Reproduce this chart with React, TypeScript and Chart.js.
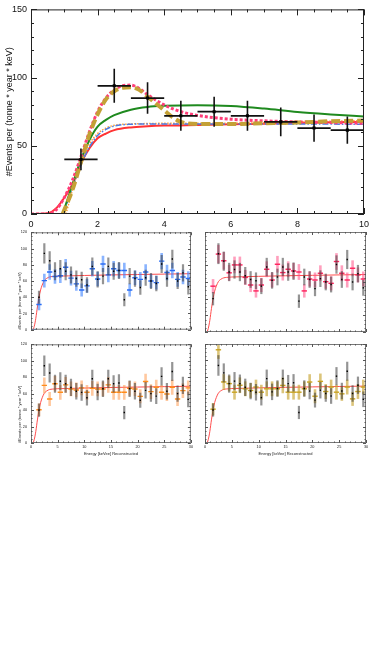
import React, { useEffect, useRef } from "react";
import { Chart, registerables } from "chart.js";

Chart.register(...registerables);

// ---------------- Top chart data ----------------
const MAIN_X = [1.5, 2.5, 3.5, 4.5, 5.5, 6.5, 7.5, 8.5, 9.5];
const MAIN_Y = [40, 94, 85, 72, 75, 72, 67.5, 63, 61.5];
const MAIN_ERR = [8, 12.5, 11.5, 11, 11, 11, 10.5, 10, 10];
const HALF_BIN = 0.5;

const RED_X = [0, 0.5, 0.75, 1, 1.25, 1.5, 1.75, 2, 2.25, 2.5, 3, 3.5, 4, 5, 6, 7, 8, 9, 10];
const RED_Y = [0, 0.5, 4, 12, 22, 37, 48, 55.5, 59, 61.5, 63.5, 64.3, 64.8, 65.3, 65.8, 66.2, 66.7, 67.2, 67.6];
const GREEN_X = [0.95, 1.25, 1.5, 1.75, 2, 2.25, 2.5, 3, 3.5, 4, 5, 6, 7, 8, 9, 10];
const GREEN_Y = [0, 22, 40, 54, 64, 69, 72.5, 76.5, 78.5, 79.3, 79.8, 79.2, 77.3, 74.8, 73, 71.5];
const BLUE_X = [0, 0.5, 0.9, 1.25, 1.5, 1.75, 2, 2.25, 2.5, 3, 3.5, 4, 6, 8, 10];
const BLUE_Y = [0, 0, 0, 20, 36, 49, 57.5, 62, 64.5, 65.8, 66, 66, 66, 66, 65.8];
const ORANGE_X = [1.05, 1.25, 1.5, 1.75, 2, 2.25, 2.5, 3, 3.5, 4, 6, 8, 10];
const ORANGE_Y = [0, 18, 37, 51, 59, 63, 65, 66, 66.3, 66.5, 66.6, 67.5, 68.5];
const PINK_X = [0, 0.5, 0.75, 1, 1.25, 1.5, 1.75, 2, 2.25, 2.5, 2.75, 3, 3.25, 3.5, 4, 4.5, 5, 6, 7, 8, 9, 10];
const PINK_Y = [0, 0, 3, 12, 25, 42, 60, 75, 85, 91, 94, 94.5, 92, 87.5, 80, 75, 72.3, 69.5, 68.3, 67.5, 67, 66.5];
const GOLD_X = [0.95, 1.25, 1.5, 1.75, 2, 2.25, 2.5, 2.75, 3, 3.25, 3.5, 3.75, 4, 4.25, 4.5, 5, 6, 7, 8, 9, 10];
const GOLD_Y = [0, 18, 38, 58, 73, 84, 90, 92.5, 93, 91, 86, 81, 76, 71, 67.5, 66, 66, 66.5, 67, 68, 68.5];

// ---------------- Small panels data ----------------
const BINS = [1.5, 2.5, 3.5, 4.5, 5.5, 6.5, 7.5, 8.5, 9.5, 10.5, 11.5, 12.5, 13.5, 14.5, 15.5, 16.5, 17.5, 18.5, 19.5, 20.5, 21.5, 22.5, 23.5, 24.5, 25.5, 26.5, 27.5, 28.5, 29.5];
const BLACK_Y = [40, 94, 85, 72, 75, 72, 67.5, 63, 61.5, 55, 78, 62, 66, 78, 72, 73, 37, 66, 63, 52, 64, 60, 57, 81, 63, 87, 60, 70, 53];
const BLACK_ERR = [8, 12.5, 11.5, 11, 11, 11, 10.5, 10, 10, 9.5, 11, 10, 10, 11, 10.5, 10.5, 8, 10, 10, 9, 10, 10, 9.5, 11, 10, 11.5, 10, 10.5, 9.5];

const COLOR_BINS = [0.5, 1.5, 2.5, 3.5, 4.5, 5.5, 6.5, 7.5, 8.5, 9.5, 10.5, 11.5, 12.5, 13.5, 14.5, 15.5, 16.5, 17.5, 18.5, 19.5, 20.5, 21.5, 22.5, 23.5, 24.5, 25.5, 26.5, 27.5, 28.5, 29.5];
const BLUE_PTS = [0, 31, 60.5, 71, 65.5, 66.5, 77, 63.5, 56.5, 49, 54, 75, 62.5, 81, 67.5, 75, 73, 73, 49, 64, 62, 71, 60, 58, 84.5, 70.5, 73, 62, 65, 63];
const BLUE_ERR = [0, 7, 8.5, 9.5, 9, 9, 10, 9, 8.5, 8, 8.5, 9.5, 9, 10, 9, 9.5, 9.5, 9.5, 8, 9, 9, 9.5, 8.5, 8.5, 10, 9.5, 9.5, 9, 9, 9];
const PINK_PTS = [0, 55, 93.5, 85.5, 71, 80.5, 80.5, 65.5, 56.4, 49.3, 56.4, 75.3, 62.4, 81.3, 71.3, 75.3, 73.3, 72, 49.3, 63.6, 62.4, 70.5, 60.4, 58.4, 84.6, 70.5, 62.4, 76.5, 68.5, 63.6];
const PINK_ERR = [0, 8.5, 11, 10.5, 9.5, 10, 10, 9, 8.5, 8, 8.5, 9.5, 9, 10, 9.5, 9.5, 9.5, 9.5, 8, 9, 9, 9.5, 8.5, 8.5, 10, 9.5, 9, 9.5, 9, 9];
const ORANGE_PTS = [0, 40.4, 70, 53.5, 72, 61.6, 70.6, 65.7, 64.5, 67, 61.6, 66.5, 65.7, 65.7, 70.6, 61.6, 61.6, 61.6, 66.5, 65.7, 56.7, 74.7, 62.4, 67.8, 61.6, 59.6, 67.8, 53.5, 63.7, 67];
const ORANGE_ERR = [0, 7.5, 9.5, 8.5, 9.5, 9, 9.5, 9, 9, 9, 9, 9, 9, 9, 9.5, 9, 9, 9, 9, 9, 8.5, 9.5, 9, 9, 9, 8.5, 9, 8.5, 9, 9];
const GOLD_PTS = [0, 41, 113, 74, 72, 61.6, 70, 65.7, 63.7, 67.8, 61.6, 65.7, 65.7, 65.7, 69.8, 61.6, 61.6, 61.6, 65.7, 73.9, 56.7, 74.7, 62.4, 67.8, 61.6, 59.6, 67.8, 53.5, 62.4, 67.8];
const GOLD_ERR = [0, 7.5, 11, 9.5, 9.5, 9, 9.5, 9, 9, 9, 9, 9, 9, 9, 9.5, 9, 9, 9, 9, 9.5, 8.5, 9.5, 9, 9, 9, 8.5, 9, 8.5, 9, 9];

const FIT_X = [0, 0.3, 0.6, 0.9, 1.2, 1.5, 1.8, 2.1, 2.5, 3, 3.5, 4, 5, 7, 10, 15, 20, 25, 30];
const FIT_Y = [0, 0, 4, 14, 28, 40, 49, 55, 60.5, 63.5, 65, 65.5, 66, 66.3, 66.8, 67.5, 68, 68.5, 69];

const Y_TITLE = "#Events per (tonne * year * keV)";
const X_TITLE = "Energy [keVee] Reconstructed";
const FONT = "'Liberation Sans', Arial, Helvetica, sans-serif";

// ---------------- plugins ----------------
const framePlugin = {
  id: "frame",
  afterDatasetsDraw(chart: any, _a: any, opts: any) {
    const { ctx, chartArea: a, scales } = chart;
    const xs = scales.x;
    const ys = scales.y;
    ctx.save();
    ctx.strokeStyle = opts.color;
    ctx.lineWidth = opts.width;
    ctx.strokeRect(a.left + 0.5, a.top + 0.5, a.right - a.left - 1, a.bottom - a.top - 1);
    ctx.strokeStyle = opts.tickColor;
    const line = (x1: number, y1: number, x2: number, y2: number) => {
      ctx.beginPath();
      ctx.moveTo(x1, y1);
      ctx.lineTo(x2, y2);
      ctx.stroke();
    };
    const isMajor = (v: number, step: number) => Math.abs(v / step - Math.round(v / step)) < 1e-6;
    for (let v = xs.min; v <= xs.max + 1e-9; v += opts.xMinor) {
      const px = Math.round(xs.getPixelForValue(v)) + 0.5;
      const L = isMajor(v, opts.xMajor) ? opts.majorLen : opts.minorLen;
      line(px, a.bottom, px, a.bottom - L);
      line(px, a.top, px, a.top + L);
    }
    for (let v = ys.min; v <= ys.max + 1e-9; v += opts.yMinor) {
      const py = Math.round(ys.getPixelForValue(v)) + 0.5;
      const L = isMajor(v, opts.yMajor) ? opts.majorLen : opts.minorLen;
      line(a.left, py, a.left + L, py);
      line(a.right, py, a.right - L, py);
    }
    ctx.restore();
  },
};

const errPlugin = {
  id: "errbars",
  beforeDatasetDraw(chart: any, args: any) {
    const ds: any = chart.data.datasets[args.index];
    if (!ds.errY) return;
    const { ctx, chartArea: a } = chart;
    const xs = chart.scales.x;
    const ys = chart.scales.y;
    ctx.save();
    ctx.beginPath();
    ctx.rect(a.left, a.top, a.right - a.left, a.bottom - a.top);
    ctx.clip();
    ds.data.forEach((p: any, i: number) => {
      const e = ds.errY[i];
      const px = xs.getPixelForValue(p.x);
      if (e > 0) {
        ctx.strokeStyle = ds.errColor;
        ctx.lineWidth = ds.errWidth;
        ctx.beginPath();
        ctx.moveTo(px, ys.getPixelForValue(p.y - e));
        ctx.lineTo(px, ys.getPixelForValue(p.y + e));
        ctx.stroke();
      }
      if (ds.errX) {
        const py = ys.getPixelForValue(p.y);
        ctx.strokeStyle = ds.hColor;
        ctx.lineWidth = ds.hWidth;
        ctx.beginPath();
        ctx.moveTo(xs.getPixelForValue(p.x - ds.errX), py);
        ctx.lineTo(xs.getPixelForValue(p.x + ds.errX), py);
        ctx.stroke();
      }
    });
    ctx.restore();
  },
};

function pts(xs: number[], ys: number[]) {
  return xs.map((x, i) => ({ x, y: ys[i] }));
}

function curve(label: string, xs: number[], ys: number[], color: string, width: number, dash: number[], order: number) {
  return {
    label,
    data: pts(xs, ys),
    showLine: true,
    borderColor: color,
    backgroundColor: color,
    borderWidth: width,
    borderDash: dash,
    pointRadius: 0,
    tension: 0.4,
    cubicInterpolationMode: "monotone",
    fill: false,
    order,
  };
}

function mainConfig(): any {
  return {
    type: "scatter",
    data: {
      datasets: [
        {
          label: "data",
          data: pts(MAIN_X, MAIN_Y),
          pointStyle: "rect",
          pointRadius: 2.2,
          backgroundColor: "#000",
          borderColor: "#000",
          borderWidth: 0,
          errY: MAIN_ERR,
          errColor: "#111",
          errWidth: 1.6,
          errX: HALF_BIN,
          hColor: "#111",
          hWidth: 1.8,
          order: 0,
        },
        curve("gold", GOLD_X, GOLD_Y, "#c4a136", 4, [9, 4], 1),
        curve("pink", PINK_X, PINK_Y, "#ff3c78", 3, [3, 2], 2),
        curve("green", GREEN_X, GREEN_Y, "#1f8a1f", 2, [], 3),
        curve("blue", BLUE_X, BLUE_Y, "#4b7be5", 1.5, [6, 2, 1.5, 2], 4),
        curve("orange", ORANGE_X, ORANGE_Y, "#ffa033", 1.5, [1.5, 1.5], 5),
        curve("red", RED_X, RED_Y, "#ff3333", 2, [], 6),
      ],
    },
    options: {
      animation: false,
      responsive: false,
      devicePixelRatio: 1,
      events: [],
      layout: { padding: { top: 7, right: 6, left: 0, bottom: 0 } },
      plugins: {
        legend: { display: false },
        tooltip: { enabled: false },
        frame: { color: "#222", tickColor: "#222", width: 1, xMinor: 0.5, xMajor: 2, yMinor: 10, yMajor: 50, majorLen: 6, minorLen: 3 },
      },
      scales: {
        x: {
          type: "linear",
          min: 0,
          max: 10,
          grid: { display: false, drawTicks: false },
          border: { display: false },
          ticks: { stepSize: 2, padding: 5, color: "#111", font: { family: FONT, size: 9 } },
          afterFit: (s: any) => {
            s.height = 20;
          },
        },
        y: {
          type: "linear",
          min: 0,
          max: 150,
          grid: { display: false, drawTicks: false },
          border: { display: false },
          ticks: { stepSize: 50, padding: 4, color: "#111", font: { family: FONT, size: 9 } },
          title: { display: true, text: Y_TITLE, color: "#111", font: { family: FONT, size: 9 }, padding: { top: 4, bottom: 0 } },
          afterFit: (s: any) => {
            s.width = 31;
          },
        },
      },
    },
    plugins: [framePlugin, errPlugin],
  };
}

type Panel = {
  pts: number[];
  err: number[];
  hColor: string;
  errColor: string;
  showY: boolean;
  showX: boolean;
  xHeight: number;
  yWidth: number;
  padRight: number;
};

function panelConfig(p: Panel): any {
  return {
    type: "scatter",
    data: {
      datasets: [
        {
          label: "black",
          data: pts(BINS, BLACK_Y),
          pointStyle: "rect",
          pointRadius: 1,
          backgroundColor: "#000",
          borderColor: "#000",
          borderWidth: 0,
          errY: BLACK_ERR,
          errColor: "rgba(60,60,60,0.55)",
          errWidth: 2.2,
          order: 0,
        },
        {
          label: "color",
          data: pts(COLOR_BINS, p.pts),
          pointRadius: 0,
          errY: p.err,
          errColor: p.errColor,
          errWidth: 2.6,
          errX: HALF_BIN,
          hColor: p.hColor,
          hWidth: 1.4,
          order: 1,
        },
        curve("fit", FIT_X, FIT_Y, "#ff4d4d", 1, [], 2),
      ],
    },
    options: {
      animation: false,
      responsive: false,
      devicePixelRatio: 1,
      events: [],
      layout: { padding: { top: 6, right: p.padRight, left: 0, bottom: 0 } },
      plugins: {
        legend: { display: false },
        tooltip: { enabled: false },
        frame: { color: "#777", tickColor: "#555", width: 1, xMinor: 1, xMajor: 5, yMinor: 5, yMajor: 20, majorLen: 3, minorLen: 1.5 },
      },
      scales: {
        x: {
          type: "linear",
          min: 0,
          max: 30,
          grid: { display: false, drawTicks: false },
          border: { display: false },
          ticks: { display: p.showX, stepSize: 5, padding: 2, color: "#222", font: { family: FONT, size: 3.8 } },
          title: {
            display: p.showX,
            text: X_TITLE,
            color: "#222",
            font: { family: FONT, size: 4 },
            padding: { top: 0, bottom: 12 },
          },
          afterFit: (s: any) => {
            s.height = p.xHeight;
          },
        },
        y: {
          type: "linear",
          min: 0,
          max: 120,
          grid: { display: false, drawTicks: false },
          border: { display: false },
          ticks: { display: p.showY, stepSize: 20, padding: 4, color: "#222", font: { family: FONT, size: 3.8 } },
          title: {
            display: p.showY,
            text: Y_TITLE,
            align: "start",
            color: "#222",
            font: { family: FONT, size: 4 },
            padding: { top: 17, bottom: 0 },
          },
          afterFit: (s: any) => {
            s.width = p.yWidth;
          },
        },
      },
    },
    plugins: [framePlugin, errPlugin],
  };
}

function ChartBox({ x, y, w, h, make }: { x: number; y: number; w: number; h: number; make: () => any }) {
  const ref = useRef<HTMLCanvasElement>(null);
  useEffect(() => {
    const chart = new Chart(ref.current as HTMLCanvasElement, make());
    return () => chart.destroy();
  }, []);
  return (
    <div style={{ position: "absolute", left: x, top: y, width: w, height: h }}>
      <canvas ref={ref} width={w} height={h} style={{ width: w, height: h, display: "block" }} />
    </div>
  );
}

export default function App() {
  return (
    <div style={{ position: "fixed", left: 0, top: 0, width: 374, height: 664, background: "#fff", overflow: "hidden" }}>
      <ChartBox x={0} y={0} w={374} h={234} make={mainConfig} />
      <ChartBox
        x={0}
        y={226}
        w={195}
        h={110}
        make={() =>
          panelConfig({ pts: BLUE_PTS, err: BLUE_ERR, hColor: "#2a6df4", errColor: "rgba(60,130,255,0.6)", showY: true, showX: false, xHeight: 4, yWidth: 31, padRight: 4 })
        }
      />
      <ChartBox
        x={195}
        y={226}
        w={179}
        h={110}
        make={() =>
          panelConfig({ pts: PINK_PTS, err: PINK_ERR, hColor: "#ff1f5a", errColor: "rgba(255,80,135,0.55)", showY: false, showX: false, xHeight: 4, yWidth: 10, padRight: 8 })
        }
      />
      <ChartBox
        x={0}
        y={338}
        w={195}
        h={130}
        make={() =>
          panelConfig({ pts: ORANGE_PTS, err: ORANGE_ERR, hColor: "#ff8c1a", errColor: "rgba(255,155,80,0.55)", showY: true, showX: true, xHeight: 25, yWidth: 31, padRight: 4 })
        }
      />
      <ChartBox
        x={195}
        y={338}
        w={179}
        h={130}
        make={() =>
          panelConfig({ pts: GOLD_PTS, err: GOLD_ERR, hColor: "#c9a21f", errColor: "rgba(200,165,50,0.65)", showY: false, showX: true, xHeight: 25, yWidth: 10, padRight: 8 })
        }
      />
    </div>
  );
}
